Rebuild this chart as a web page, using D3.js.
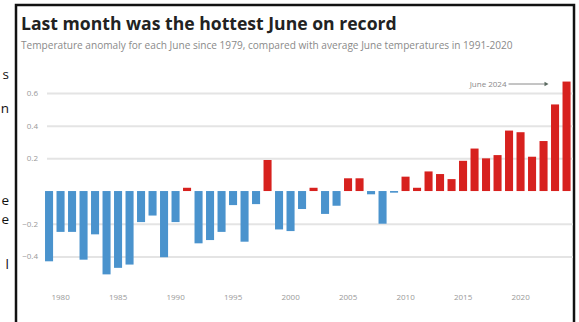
<!DOCTYPE html>
<html>
<head>
<meta charset="utf-8">
<script src="https://cdn.jsdelivr.net/npm/d3@7/dist/d3.min.js"></script>
<style>
  html, body { margin: 0; padding: 0; background: #fff; }
  svg { display: block; }
</style>
</head>
<body>
<svg id="chart" width="579" height="322"></svg>
<script>
// June temperature anomaly (°C) relative to the 1991-2020 June average
const years = d3.range(1979, 2025);
const anomalies = [
  -0.43, -0.25, -0.25, -0.42, -0.265, -0.51, -0.47, -0.45, -0.19, -0.15,
  -0.405, -0.19, 0.02, -0.32, -0.30, -0.25, -0.086, -0.31, -0.08, 0.19,
  -0.235, -0.245, -0.11, 0.02, -0.14, -0.09, 0.078, 0.078, -0.02, -0.20,
  -0.01, 0.088, 0.02, 0.12, 0.104, 0.073, 0.185, 0.26, 0.20, 0.22,
  0.37, 0.36, 0.21, 0.306, 0.53, 0.67
];
const yTicks = [-0.4, -0.2, 0.2, 0.4, 0.6];
const xTickYears = [1980, 1985, 1990, 1995, 2000, 2005, 2010, 2015, 2020];
const title = "Last month was the hottest June on record";
const subtitle = "Temperature anomaly for each June since 1979, compared with average June temperatures in 1991-2020";
const annotation = "June 2024";
const sideText = [
  { t: "s", y: 79 },
  { t: "n", y: 113 },
  { t: "e", y: 205 },
  { t: "e", y: 224 },
  { t: "l", y: 269 }
];

const data = years.map((y, i) => ({ year: y, value: anomalies[i] }));

const svg = d3.select("#chart");
const font = "'Open Sans', 'Noto Sans', sans-serif";

// fragments of neighbouring page text, cut at the left edge
svg.selectAll("text.side").data(sideText).join("text")
  .attr("class", "side")
  .attr("x", 9).attr("y", d => d.y)
  .attr("text-anchor", "end")
  .attr("font-family", font).attr("font-size", 13.5)
  .attr("fill", "#111")
  .text(d => d.t);

// card frame
svg.append("rect")
  .attr("x", 16).attr("y", 5)
  .attr("width", 558).attr("height", 330)
  .attr("fill", "#fff")
  .attr("stroke", "#111").attr("stroke-width", 2.5);

svg.append("text")
  .attr("x", 21).attr("y", 30)
  .attr("font-family", font).attr("font-weight", 700)
  .attr("font-size", 17.6).attr("fill", "#222")
  .text(title);

svg.append("text")
  .attr("x", 21).attr("y", 49)
  .attr("font-family", font).attr("font-size", 10.1)
  .attr("fill", "#8a8a8a")
  .text(subtitle);

const x = d3.scaleBand()
  .domain(years)
  .range([43.3, 572.3])
  .paddingInner(0.3)
  .paddingOuter(0.15);

const y = d3.scaleLinear()
  .domain([-0.4, 0.6])
  .range([256.4, 93]);

// gridlines + y labels
const yAxis = d3.axisLeft(y)
  .tickValues(yTicks)
  .tickFormat(d3.format(".1f"))
  .tickSize(-(573 - 47))
  .tickPadding(9);

const gy = svg.append("g")
  .attr("transform", "translate(47,0)")
  .call(yAxis);
gy.select(".domain").remove();
gy.selectAll(".tick line").attr("stroke", "#e4e4e4").attr("stroke-width", 2);
gy.selectAll(".tick text")
  .attr("font-family", font).attr("font-size", 8)
  .attr("fill", "#999");

// bars
svg.append("g").selectAll("rect").data(data).join("rect")
  .attr("x", d => x(d.year))
  .attr("width", x.bandwidth())
  .attr("y", d => y(Math.max(0, d.value)))
  .attr("height", d => Math.abs(y(d.value) - y(0)))
  .attr("fill", d => d.value >= 0 ? "#d7211e" : "#4a93cd");

// x axis labels
const xAxis = d3.axisBottom(x)
  .tickValues(xTickYears)
  .tickSize(0)
  .tickPadding(0);
const gx = svg.append("g")
  .attr("transform", "translate(0,294)")
  .call(xAxis);
gx.select(".domain").remove();
gx.selectAll(".tick text")
  .attr("font-family", font).attr("font-size", 8)
  .attr("fill", "#999");

// annotation for the latest year
const last = data[data.length - 1];
const ax = x(last.year) - 14;
svg.append("text")
  .attr("x", ax - 42).attr("y", 87)
  .attr("text-anchor", "end")
  .attr("font-family", font).attr("font-size", 8)
  .attr("fill", "#8a8a8a")
  .text(annotation);
svg.append("line")
  .attr("x1", ax - 40).attr("x2", ax - 2)
  .attr("y1", 84).attr("y2", 84)
  .attr("stroke", "#8a8a8a").attr("stroke-width", 1);
svg.append("path")
  .attr("d", `M${ax},84 l-4,-2.2 v4.4 Z`)
  .attr("fill", "#5a6a60");
</script>
</body>
</html>
